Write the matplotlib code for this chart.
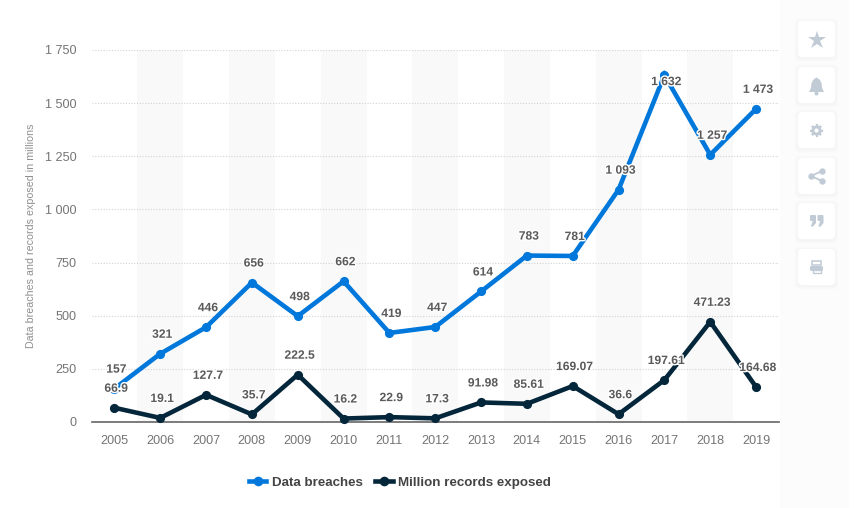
import matplotlib
matplotlib.use('Agg')
import matplotlib.pyplot as plt
import matplotlib.patheffects as pe
from matplotlib.patches import FancyBboxPatch, Rectangle, Polygon, Circle
from matplotlib.ticker import FuncFormatter

years = ['2005', '2006', '2007', '2008', '2009', '2010', '2011', '2012',
         '2013', '2014', '2015', '2016', '2017', '2018', '2019']
breaches = [157, 321, 446, 656, 498, 662, 419, 447, 614, 783, 781, 1093, 1632, 1257, 1473]
records = [66.9, 19.1, 127.7, 35.7, 222.5, 16.2, 22.9, 17.3, 91.98, 85.61, 169.07,
           36.6, 197.61, 471.23, 164.68]
breach_labels = ['157', '321', '446', '656', '498', '662', '419', '447', '614', '783',
                 '781', '1 093', '1 632', '1 257', '1 473']
record_labels = ['66.9', '19.1', '127.7', '35.7', '222.5', '16.2', '22.9', '17.3', '91.98',
                 '85.61', '169.07', '36.6', '197.61', '471.23', '164.68']
yticks = [0, 250, 500, 750, 1000, 1250, 1500, 1750]

BLUE = '#0077db'
NAVY = '#03263b'
ICON = '#c0cbd6'
W, H = 863, 508

plt.rcParams['font.family'] = ['Liberation Sans', 'DejaVu Sans']

fig = plt.figure(figsize=(W / 100, H / 100), dpi=100)

# sidebar and buttons live on a full-figure axes in pixel units
side = fig.add_axes([0, 0, 1, 1], zorder=0)
side.set_xlim(0, W)
side.set_ylim(H, 0)
side.axis('off')
side.add_patch(Rectangle((780, 0), 69, H, color='#fcfcfd', lw=0))
for top in [21, 67, 112, 158, 203, 249]:
    for grow, alpha in [(4, 0.005), (3, 0.007), (2, 0.009), (1, 0.012)]:
        side.add_patch(FancyBboxPatch((798 - grow, top + 1 - grow), 37 + 2 * grow, 36 + 2 * grow,
                                      boxstyle='round,pad=0,rounding_size=5',
                                      fc='#4a6078', ec='none', alpha=alpha))
    side.add_patch(FancyBboxPatch((798, top), 37, 36, boxstyle='round,pad=0,rounding_size=4',
                                  fc='white', ec='none'))

cx = 816.5
# star
side.plot([cx], [39.5], marker='*', ms=13.5, color=ICON, mew=0)
# bell
side.add_patch(Polygon([(809, 92), (811, 88), (811.5, 83), (813.5, 79.5), (816.5, 77.5),
                        (819.5, 79.5), (821.5, 83), (822, 88), (824, 92)], fc=ICON, ec='none'))
side.add_patch(Circle((cx, 93.5), 2, fc=ICON, ec='none'))
# gear: spokes under a ring
for dx, dy in [(6.5, 0), (4.6, 4.6), (0, 6.5), (-4.6, 4.6)]:
    side.plot([cx - dx, cx + dx], [130.5 - dy, 130.5 + dy], color=ICON, lw=1.7,
              solid_capstyle='butt')
side.add_patch(Circle((cx, 130.5), 4.9, fc=ICON, ec='none', zorder=3))
side.add_patch(Circle((cx, 130.5), 2.1, fc='white', ec='none', zorder=4))
# share
side.plot([822, 811, 822], [171, 176, 181], color=ICON, lw=1.3)
side.plot([822, 811, 822], [171, 176, 181], 'o', color=ICON, ms=4.6, mew=0)
# quotation marks
for qx in [810, 817.5]:
    side.add_patch(FancyBboxPatch((qx, 215), 6, 6, boxstyle='round,pad=0,rounding_size=1',
                                  fc=ICON, ec='none'))
    side.add_patch(Polygon([(qx + 6, 220), (qx + 6, 223), (qx + 2.5, 227), (qx + 1, 226),
                            (qx + 3, 220)], fc=ICON, ec='none'))
# printer
side.add_patch(Rectangle((812, 261), 9, 4, fc='none', ec=ICON, lw=1.1))
side.add_patch(FancyBboxPatch((810, 266), 13, 5, boxstyle='round,pad=0,rounding_size=1.5',
                              fc=ICON, ec='none'))
side.add_patch(Rectangle((812.5, 269.5), 8, 3.5, fc='white', ec=ICON, lw=1))

ax = fig.add_axes([91.5 / W, 1 - 422 / H, 687.5 / W, 372 / H], zorder=1)
ax.patch.set_alpha(0)
x = list(range(len(years)))
ax.set_xlim(-0.5, 14.5)
ax.set_ylim(0, 1750)

# alternating column bands
for i in x[1::2]:
    ax.axvspan(i - 0.5, i + 0.5, color='#f9f9f9', lw=0, zorder=0)

ax.set_yticks(yticks)
ax.yaxis.set_major_formatter(FuncFormatter(lambda v, p: f'{int(v):,}'.replace(',', ' ')))
ax.set_xticks(x)
ax.set_xticklabels(years)
ax.grid(axis='y', color='#d2d2d2', lw=0.8, ls=(0, (1, 1.5)), zorder=1)
ax.tick_params(axis='both', length=0, labelsize=9.1, labelcolor='#757575')
ax.tick_params(axis='x', pad=9.5)
ax.tick_params(axis='y', pad=11)
for s in ['top', 'left', 'right']:
    ax.spines[s].set_visible(False)
ax.spines['bottom'].set_color('#666666')
ax.spines['bottom'].set_linewidth(1.2)
ax.set_axisbelow(True)

ax.plot(x, breaches, color=BLUE, lw=3.3, marker='o', ms=6.6, mew=0, label='Data breaches',
        zorder=3, clip_on=False, solid_joinstyle='miter')
ax.plot(x, records, color=NAVY, lw=3.3, marker='o', ms=6.6, mew=0, label='Million records exposed',
        zorder=4, clip_on=False, solid_joinstyle='miter')

halo = [pe.withStroke(linewidth=2.0, foreground='white')]
for series, labels in [(breaches, breach_labels), (records, record_labels)]:
    for i, (v, t) in enumerate(zip(series, labels)):
        # the 2017 peak has no room above it, so its label drops below the point
        dy = -7 if t == '1 632' else 19
        ax.annotate(t, (i, v), xytext=(2, dy), textcoords='offset pixels', ha='center', va='center',
                    fontsize=8.7, fontweight='bold', color='#5a5a5a', path_effects=halo, zorder=6)

ax.set_ylabel('Data breaches and records exposed in millions', fontsize=7.7, color='#8f8f8f')
ax.yaxis.set_label_coords((37 - 92) / 687, 0.5)

fig.legend(loc='center', bbox_to_anchor=(400 / W, 1 - 482.5 / H), ncol=2, frameon=False,
           prop={'weight': 'bold', 'size': 9.6}, labelcolor='#444444', handlelength=1.3,
           handletextpad=0.42, columnspacing=0.95, markerscale=1.05)

fig.savefig('out.png', dpi=100)
plt.close()
